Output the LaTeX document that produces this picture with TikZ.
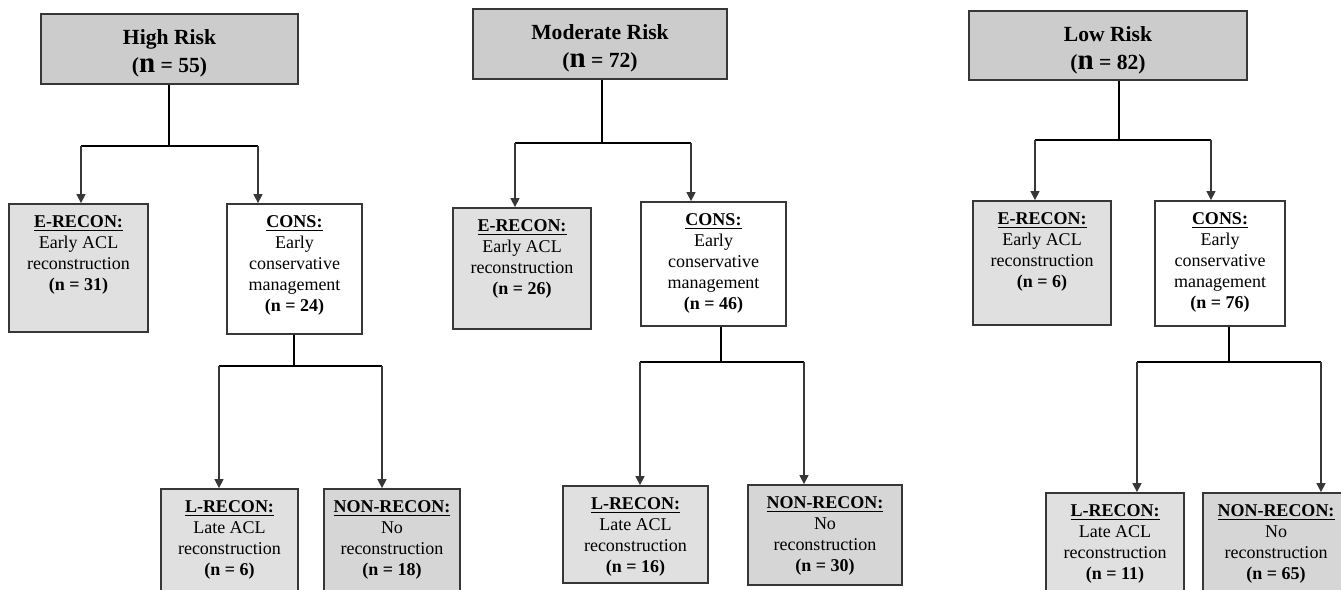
\documentclass[tikz,border=0pt]{standalone}
\usepackage{fontspec}
\setmainfont{Liberation Serif}
\usepackage{tikz}
\usetikzlibrary{arrows.meta,positioning,fit}
\definecolor{riskgray}{RGB}{204,204,204}
\definecolor{earlyfill}{RGB}{224,224,224}
\definecolor{nonfill}{RGB}{214,214,214}
\definecolor{framegray}{RGB}{55,55,55}
\definecolor{arrowgray}{RGB}{55,55,55}
\tikzset{
  riskbox/.style={draw=framegray,fill=riskgray,line width=0.9pt,inner sep=0pt,minimum height=35pt,align=center,font=\fontsize{10.8}{14}\selectfont\bfseries},
  cell/.style={draw=framegray,line width=0.9pt,inner sep=0pt},
  celltext/.style={inner sep=0pt,align=center,font=\fontsize{9}{10.5}\selectfont},
  stem/.style={line width=1pt,draw=black},
  arr/.style={-{Triangle[width=4.5pt,length=4.5pt]},line width=0.7pt,draw=arrowgray}
}
\newcommand{\nbig}{{\fontsize{14.5}{14.5}\selectfont n}}
\newcommand{\grouphead}[1]{\underline{\textbf{#1}}}
\newcommand{\risktitle}[2]{\rule{0pt}{12pt}#1\\(\nbig{} = #2)}

\begin{document}
\begin{tikzpicture}[x=0.5pt,y=-0.5pt]
\clip (0,0) rectangle (1341,590);

\begin{scope}
  \node[riskbox,minimum width=128.5pt] (hi) at (169.5,49) {\risktitle{High Risk}{55}};
  \coordinate (hiJ) at (169,146);
  \coordinate (hiBL) at (81,146);
  \coordinate (hiBR) at (258,146);
  \draw[stem] (hiJ |- hi.south) -- (hiJ);
  \draw[stem] (hiBL) -- (hiBR);

  \node[cell,fill=earlyfill,fit={(9,204) (148,332)}] (hiE) {};
  \node[cell,fill=white,fit={(227,204) (362,334)}] (hiC) {};
  \draw[arr] (hiBL) -- (hiBL |- hiE.north);
  \draw[arr] (hiBR) -- (hiBR |- hiC.north);

  \node[celltext,below=6pt of hiE.north] (hiEt)
    {\grouphead{E-RECON:}\\Early ACL\\reconstruction\\\textbf{(n = 31)}};
  \node[celltext,below=6pt of hiC.north] (hiCt)
    {\grouphead{CONS:}\\Early\\conservative\\management\\\textbf{(n = 24)}};

  \coordinate (hiK) at (294,366);
  \coordinate (hiKL) at (219,366);
  \coordinate (hiKR) at (382,366);
  \draw[stem] (hiK |- hiC.south) -- (hiK);
  \draw[stem] (hiKL) -- (hiKR);

  \node[cell,fill=earlyfill,fit={(161,489) (298,600)}] (hiL) {};
  \node[cell,fill=nonfill,fit={(324,489) (460,600)}] (hiN) {};
  \draw[arr] (hiKL) -- (hiKL |- hiL.north);
  \draw[arr] (hiKR) -- (hiKR |- hiN.north);

  \node[celltext,below=6pt of hiL.north] (hiLt)
    {\grouphead{L-RECON:}\\Late ACL\\reconstruction\\\textbf{(n = 6)}};
  \node[celltext,below=6pt of hiN.north] (hiNt)
    {\grouphead{NON-RECON:}\\No\\reconstruction\\\textbf{(n = 18)}};
\end{scope}

\begin{scope}
  \node[riskbox,minimum width=127pt] (mod) at (600,44) {\risktitle{Moderate Risk}{72}};
  \coordinate (modJ) at (602,143);
  \coordinate (modBL) at (515,143);
  \coordinate (modBR) at (691,143);
  \draw[stem] (modJ |- mod.south) -- (modJ);
  \draw[stem] (modBL) -- (modBR);

  \node[cell,fill=earlyfill,fit={(453,208) (591,329)}] (modE) {};
  \node[cell,fill=white,fit={(641,202) (786,326)}] (modC) {};
  \draw[arr] (modBL) -- (modBL |- modE.north);
  \draw[arr] (modBR) -- (modBR |- modC.north);

  \node[celltext,below=6pt of modE.north] (modEt)
    {\grouphead{E-RECON:}\\Early ACL\\reconstruction\\\textbf{(n = 26)}};
  \node[celltext,below=6pt of modC.north] (modCt)
    {\grouphead{CONS:}\\Early\\conservative\\management\\\textbf{(n = 46)}};

  \coordinate (modK) at (721,362);
  \coordinate (modKL) at (640,362);
  \coordinate (modKR) at (804,362);
  \draw[stem] (modK |- modC.south) -- (modK);
  \draw[stem] (modKL) -- (modKR);

  \node[cell,fill=earlyfill,fit={(563,486) (708,583)}] (modL) {};
  \node[cell,fill=nonfill,fit={(748,485) (902,585)}] (modN) {};
  \draw[arr] (modKL) -- (modKL |- modL.north);
  \draw[arr] (modKR) -- (modKR |- modN.north);

  \node[celltext,below=6pt of modL.north] (modLt)
    {\grouphead{L-RECON:}\\Late ACL\\reconstruction\\\textbf{(n = 16)}};
  \node[celltext,below=6pt of modN.north] (modNt)
    {\grouphead{NON-RECON:}\\No\\reconstruction\\\textbf{(n = 30)}};
\end{scope}

\begin{scope}
  \node[riskbox,minimum width=139pt,minimum height=34.5pt] (low) at (1108,45.5) {\risktitle{Low Risk}{82}};
  \coordinate (lowJ) at (1119,140);
  \coordinate (lowBL) at (1035,140);
  \coordinate (lowBR) at (1211,140);
  \draw[stem] (lowJ |- low.south) -- (lowJ);
  \draw[stem] (lowBL) -- (lowBR);

  \node[cell,fill=earlyfill,fit={(973,201) (1111,325)}] (lowE) {};
  \node[cell,fill=white,fit={(1155,201) (1285,326)}] (lowC) {};
  \draw[arr] (lowBL) -- (lowBL |- lowE.north);
  \draw[arr] (lowBR) -- (lowBR |- lowC.north);

  \node[celltext,below=6pt of lowE.north] (lowEt)
    {\grouphead{E-RECON:}\\Early ACL\\reconstruction\\\textbf{(n = 6)}};
  \node[celltext,below=6pt of lowC.north] (lowCt)
    {\grouphead{CONS:}\\Early\\conservative\\management\\\textbf{(n = 76)}};

  \coordinate (lowK) at (1229,362);
  \coordinate (lowKL) at (1137,362);
  \coordinate (lowKR) at (1321,362);
  \draw[stem] (lowK |- lowC.south) -- (lowK);
  \draw[stem] (lowKL) -- (lowKR);

  \node[cell,fill=earlyfill,fit={(1046,493) (1184,600)}] (lowL) {};
  \node[cell,fill=nonfill,fit={(1203,493) (1349,600)}] (lowN) {};
  \draw[arr] (lowKL) -- (lowKL |- lowL.north);
  \draw[arr] (lowKR) -- (lowKR |- lowN.north);

  \node[celltext,below=6pt of lowL.north] (lowLt)
    {\grouphead{L-RECON:}\\Late ACL\\reconstruction\\\textbf{(n = 11)}};
  \node[celltext,below=6pt of lowN.north] (lowNt)
    {\grouphead{NON-RECON:}\\No\\reconstruction\\\textbf{(n = 65)}};
\end{scope}

\end{tikzpicture}
\end{document}
